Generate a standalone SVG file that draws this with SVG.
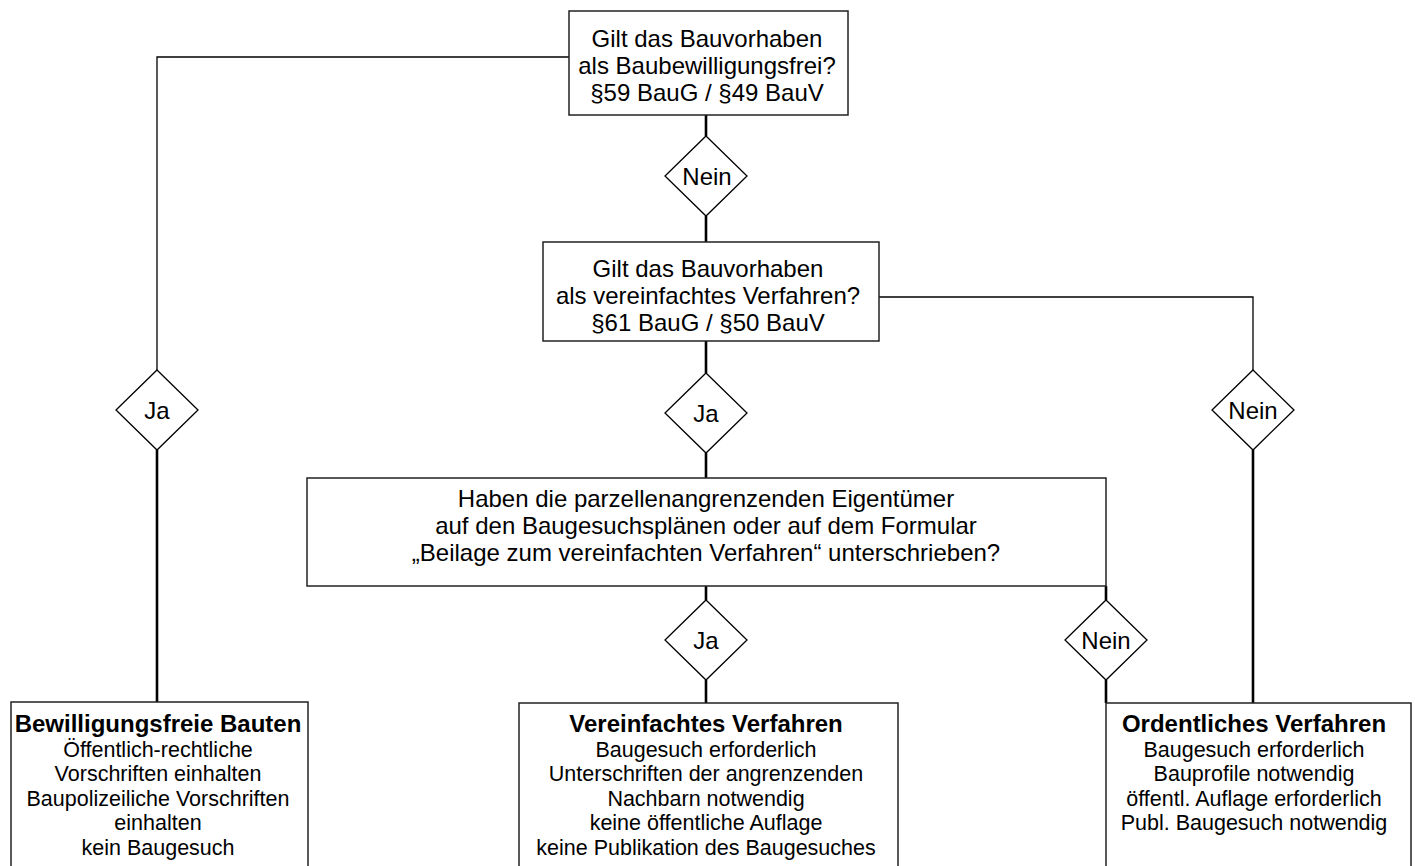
<svg xmlns="http://www.w3.org/2000/svg" width="1415" height="866" viewBox="0 0 1415 866">
<style>
  .box { fill: #ffffff; stroke: #222222; stroke-width: 1.5; }
  .dia { fill: #ffffff; stroke: #000000; stroke-width: 1.3; }
  .thin { fill: none; stroke: #000000; stroke-width: 1.3; }
  .thick { fill: none; stroke: #000000; stroke-width: 2.6; }
  text { font-family: "Liberation Sans", Arial, sans-serif; fill: #000000; text-anchor: middle; }
  .t { font-size: 24px; }
  .h { font-size: 24px; font-weight: bold; }
  .b { font-size: 21.5px; }
</style>
<rect width="1415" height="866" fill="#ffffff"/>
<g id="connectors">
  <polyline class="thin" points="569,57 157,57 157,370"/>
  <line class="thick" x1="157" y1="450" x2="157" y2="702"/>
  <line class="thick" x1="706" y1="115" x2="706" y2="136"/>
  <line class="thick" x1="706" y1="216" x2="706" y2="242"/>
  <polyline class="thin" points="879,297 1253,297 1253,370"/>
  <line class="thick" x1="1253" y1="450" x2="1253" y2="703"/>
  <line class="thick" x1="706" y1="341" x2="706" y2="373"/>
  <line class="thick" x1="706" y1="453" x2="706" y2="478"/>
  <line class="thick" x1="706" y1="586" x2="706" y2="600"/>
  <line class="thick" x1="706" y1="680" x2="706" y2="703"/>
  <line class="thick" x1="1106" y1="586" x2="1106" y2="600"/>
  <line class="thick" x1="1106" y1="680" x2="1106" y2="703"/>
</g>
<g id="q1">
  <rect class="box" x="569" y="11" width="279" height="104"/>
  <text class="t" x="707" y="47">Gilt das Bauvorhaben</text>
  <text class="t" x="707" y="74">als Baubewilligungsfrei?</text>
  <text class="t" x="707" y="101">§59 BauG / §49 BauV</text>
</g>
<g id="d1">
  <polygon class="dia" points="706,136 747,176 706,216 665,176"/>
  <text class="t" x="707" y="184.5">Nein</text>
</g>
<g id="q2">
  <rect class="box" x="543" y="242" width="336" height="99"/>
  <text class="t" x="708" y="277">Gilt das Bauvorhaben</text>
  <text class="t" x="708" y="304">als vereinfachtes Verfahren?</text>
  <text class="t" x="708" y="331">§61 BauG / §50 BauV</text>
</g>
<g id="d2">
  <polygon class="dia" points="157,370 198,410 157,450 116,410"/>
  <text class="t" x="157" y="418.5">Ja</text>
</g>
<g id="d3">
  <polygon class="dia" points="706,373 747,413 706,453 665,413"/>
  <text class="t" x="706" y="421.5">Ja</text>
</g>
<g id="d4">
  <polygon class="dia" points="1253,370 1294,410 1253,450 1212,410"/>
  <text class="t" x="1253" y="418.5">Nein</text>
</g>
<g id="q3">
  <rect class="box" x="307" y="478" width="799" height="108"/>
  <text class="t" x="706" y="507">Haben die parzellenangrenzenden Eigentümer</text>
  <text class="t" x="706" y="534">auf den Baugesuchsplänen oder auf dem Formular</text>
  <text class="t" x="706" y="561">„Beilage zum vereinfachten Verfahren“ unterschrieben?</text>
</g>
<g id="d5">
  <polygon class="dia" points="706,600 747,640 706,680 665,640"/>
  <text class="t" x="706" y="648.5">Ja</text>
</g>
<g id="d6">
  <polygon class="dia" points="1106,600 1147,640 1106,680 1065,640"/>
  <text class="t" x="1106" y="648.5">Nein</text>
</g>
<g id="r1">
  <rect class="box" x="11" y="702" width="297" height="180"/>
  <text class="h" x="158" y="732">Bewilligungsfreie Bauten</text>
  <text class="b" x="158" y="756.5">Öffentlich-rechtliche</text>
  <text class="b" x="158" y="781">Vorschriften einhalten</text>
  <text class="b" x="158" y="805.5">Baupolizeiliche Vorschriften</text>
  <text class="b" x="158" y="830">einhalten</text>
  <text class="b" x="158" y="854.5">kein Baugesuch</text>
</g>
<g id="r2">
  <rect class="box" x="519" y="703" width="379" height="180"/>
  <text class="h" x="706" y="732">Vereinfachtes Verfahren</text>
  <text class="b" x="706" y="756.5">Baugesuch erforderlich</text>
  <text class="b" x="706" y="781">Unterschriften der angrenzenden</text>
  <text class="b" x="706" y="805.5">Nachbarn notwendig</text>
  <text class="b" x="706" y="830">keine öffentliche Auflage</text>
  <text class="b" x="706" y="854.5">keine Publikation des Baugesuches</text>
</g>
<g id="r3">
  <rect class="box" x="1106" y="703" width="305" height="180"/>
  <text class="h" x="1254" y="732">Ordentliches Verfahren</text>
  <text class="b" x="1254" y="756.5">Baugesuch erforderlich</text>
  <text class="b" x="1254" y="781">Bauprofile notwendig</text>
  <text class="b" x="1254" y="805.5">öffentl. Auflage erforderlich</text>
  <text class="b" x="1254" y="830">Publ. Baugesuch notwendig</text>
</g>
</svg>
